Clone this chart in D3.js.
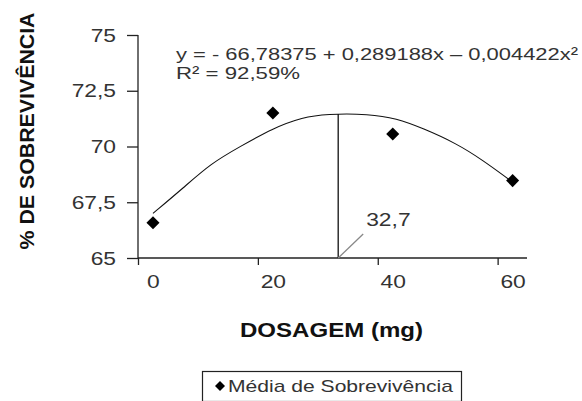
<!DOCTYPE html>
<html>
<head>
<meta charset="utf-8">
<script src="https://cdn.jsdelivr.net/npm/d3@7"></script>
<style>
  body { margin: 0; background: #fff; }
  svg { display: block; font-family: "Liberation Sans", Arial, sans-serif; }
</style>
</head>
<body>
<script>
// doses (mg) and mean survival (%)
const doses = [0, 20, 40, 60];
const survival = [66.58, 71.5, 70.56, 68.47];
// trendline
const trendX = [0, 5, 9.7, 14.5, 20, 25, 28.9, 36.1, 40.6, 45, 50.6, 55, 59.5];
const trendY = [67.0, 68.13, 69.25, 69.99, 70.82, 71.31, 71.46, 71.46, 71.26, 70.82, 70.14, 69.39, 68.5];
const yTicks = [65, 67.5, 70, 72.5, 75];
const vertexX = 30.9;
const vertexLabel = "32,7";
const equation = "y = - 66,78375 + 0,289188x \u2013 0,004422x\u00b2";
const r2Label = "R\u00b2 = 92,59%";
const legendLabel = "Média de Sobrevivência";

const width = 582, height = 401;
const tickShift = 2.5; // ticks sit half a step left of the category labels

const svg = d3.select("body").append("svg")
  .attr("width", width)
  .attr("height", height);

const x = d3.scaleLinear().domain([-tickShift, 62.4]).range([138, 527]);
const y = d3.scaleLinear().domain([65, 75]).range([258, 35]);

const fmt = v => String(v).replace(".", ",");

// stretch a text horizontally like the scanned figure
function stretch(sel, factor, target) {
  sel.each(function() {
    const w = this.getComputedTextLength();
    d3.select(this).attr("textLength", target || w * factor)
      .attr("lengthAdjust", "spacingAndGlyphs");
  });
}

// y axis
const yAxis = svg.append("g")
  .attr("transform", `translate(${x(-tickShift)},0)`)
  .call(d3.axisLeft(y).tickValues(yTicks).tickFormat(fmt).tickSize(11).tickPadding(11));
yAxis.select(".domain").attr("d", `M0,${y(75)}V${y(65)}`);
yAxis.selectAll("line, path").attr("stroke", "#222").attr("stroke-width", 1.3);
yAxis.selectAll("text").attr("font-size", 19).attr("fill", "#333").attr("font-family", null)
  .call(stretch, 1.2);

// x axis
const xAxis = svg.append("g")
  .attr("transform", `translate(0,${y(65)})`)
  .call(d3.axisBottom(x).tickValues(doses.map(d => d - tickShift))
    .tickFormat(d => d + tickShift).tickSize(7).tickPadding(10));
xAxis.select(".domain").attr("d", `M${x(-tickShift)},0H${x(62.4)}`);
xAxis.selectAll("line, path").attr("stroke", "#222").attr("stroke-width", 1.3);
xAxis.selectAll("text").attr("font-size", 19).attr("fill", "#333").attr("font-family", null)
  .attr("dx", x(0) - x(-tickShift))
  .call(stretch, 1.2);

// trendline
const trend = trendX.map((d, i) => [d, trendY[i]]);
svg.append("path")
  .datum(trend)
  .attr("fill", "none")
  .attr("stroke", "#111")
  .attr("stroke-width", 1.1)
  .attr("d", d3.line().x(d => x(d[0])).y(d => y(d[1])).curve(d3.curveBasis));

// vertex line
const peak = trendY[6];
svg.append("line")
  .attr("x1", x(vertexX)).attr("x2", x(vertexX))
  .attr("y1", y(65)).attr("y2", y(peak))
  .attr("stroke", "#111").attr("stroke-width", 1.3);

svg.append("line")
  .attr("x1", x(vertexX)).attr("y1", y(65))
  .attr("x2", x(vertexX) + 25).attr("y2", y(65) - 24)
  .attr("stroke", "#888").attr("stroke-width", 1.3);

svg.append("text")
  .attr("x", x(vertexX) + 28).attr("y", y(65) - 32)
  .attr("font-size", 19).attr("fill", "#333")
  .text(vertexLabel)
  .call(stretch, 1.2);

// points
const diamond = d3.symbol().type(d3.symbolSquare).size(85);
svg.append("g").selectAll("path")
  .data(doses)
  .join("path")
  .attr("d", diamond)
  .attr("transform", (d, i) => `translate(${x(d)},${y(survival[i])}) rotate(45)`)
  .attr("fill", "#000");

// equation
svg.append("text")
  .attr("x", 176).attr("y", 60)
  .attr("font-size", 17).attr("fill", "#333")
  .text(equation)
  .call(stretch, 1, 402);
svg.append("text")
  .attr("x", 176).attr("y", 79)
  .attr("font-size", 17).attr("fill", "#333")
  .text(r2Label)
  .call(stretch, 1, 124);

// axis titles
svg.append("text")
  .attr("transform", `translate(34,${131}) rotate(-90)`)
  .attr("text-anchor", "middle")
  .attr("font-size", 20).attr("font-weight", "bold").attr("fill", "#111")
  .text("% DE SOBREVIVÊNCIA")
  .call(stretch, 1, 237);

svg.append("text")
  .attr("x", 240).attr("y", 337)
  .attr("font-size", 21).attr("font-weight", "bold").attr("fill", "#111")
  .text("DOSAGEM (mg)")
  .call(stretch, 1, 183);

// legend
svg.append("rect")
  .attr("x", 202.5).attr("y", 371.5)
  .attr("width", 259).attr("height", 30)
  .attr("fill", "none").attr("stroke", "#222").attr("stroke-width", 1.2);
svg.append("path")
  .attr("d", d3.symbol().type(d3.symbolSquare).size(50))
  .attr("transform", "translate(220,386) rotate(45)")
  .attr("fill", "#000");
svg.append("text")
  .attr("x", 228).attr("y", 392)
  .attr("font-size", 17).attr("fill", "#333")
  .text(legendLabel)
  .call(stretch, 1, 225);
</script>
</body>
</html>
